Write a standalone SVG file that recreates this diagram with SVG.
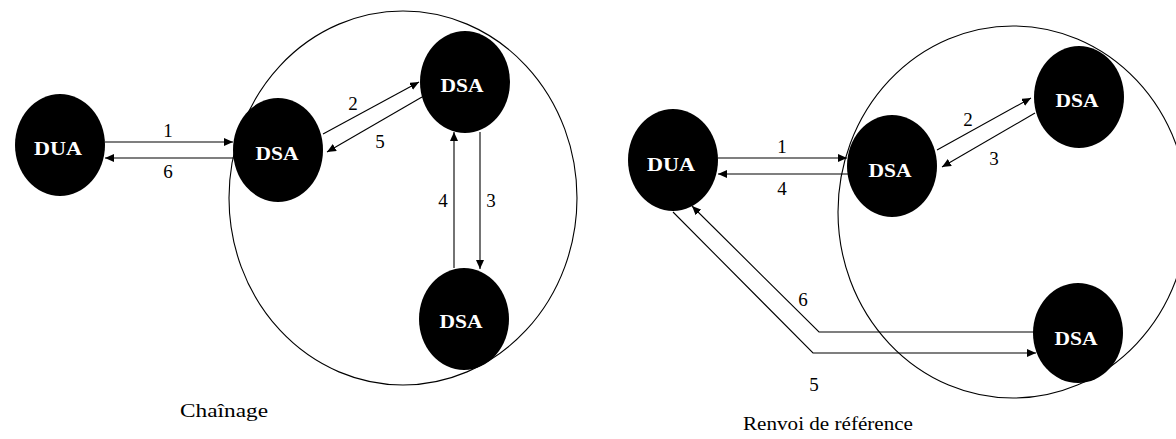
<svg xmlns="http://www.w3.org/2000/svg" width="1176" height="439" viewBox="0 0 1176 439">
  <style>
    .zone { fill: none; stroke: #000; stroke-width: 1.1; }
    .node ellipse { fill: #000; }
    .node text { fill: #fff; font-family: "Liberation Serif", "DejaVu Serif", serif; font-weight: bold; font-size: 18px; text-anchor: middle; }
    .link { fill: none; stroke: #000; stroke-width: 1.1; marker-end: url(#arrow); }
    .num { font-family: "Liberation Serif", "DejaVu Serif", serif; font-size: 19px; text-anchor: middle; fill: #000; }
    .caption { font-family: "Liberation Serif", "DejaVu Serif", serif; font-size: 18px; fill: #000; }
  </style>
  <defs>
    <marker id="arrow" viewBox="0 0 9 8" refX="9" refY="4" markerWidth="9" markerHeight="8" markerUnits="userSpaceOnUse" orient="auto">
      <path d="M0,0 L9,4 L0,8 z" fill="#000"/>
    </marker>
  </defs>
  <rect width="1176" height="439" fill="#fff"/>

  <!-- domain boundaries -->
  <g id="domains">
    <ellipse class="zone" cx="403" cy="198" rx="174" ry="187"/>
    <ellipse class="zone" cx="1013" cy="212" rx="175" ry="186"/>
  </g>

  <!-- chaining -->
  <g id="c-dua" class="node">
    <ellipse cx="60" cy="145" rx="45" ry="51"/>
    <text x="58" y="155" textLength="48" lengthAdjust="spacingAndGlyphs">DUA</text>
  </g>
  <g id="c-dsa1" class="node">
    <ellipse cx="278" cy="150" rx="45" ry="52"/>
    <text x="277" y="160" textLength="43" lengthAdjust="spacingAndGlyphs">DSA</text>
  </g>
  <g id="c-dsa2" class="node">
    <ellipse cx="465" cy="82" rx="45" ry="51"/>
    <text x="462" y="92" textLength="43" lengthAdjust="spacingAndGlyphs">DSA</text>
  </g>
  <g id="c-dsa3" class="node">
    <ellipse cx="464" cy="319" rx="45" ry="51"/>
    <text x="461" y="328" textLength="43" lengthAdjust="spacingAndGlyphs">DSA</text>
  </g>

  <!-- referral -->
  <g id="r-dua" class="node">
    <ellipse cx="673" cy="160" rx="45" ry="51"/>
    <text x="671" y="171" textLength="48" lengthAdjust="spacingAndGlyphs">DUA</text>
  </g>
  <g id="r-dsa1" class="node">
    <ellipse cx="892" cy="166" rx="45" ry="51"/>
    <text x="890" y="177" textLength="43" lengthAdjust="spacingAndGlyphs">DSA</text>
  </g>
  <g id="r-dsa2" class="node">
    <ellipse cx="1079" cy="97" rx="45" ry="51"/>
    <text x="1077" y="107" textLength="43" lengthAdjust="spacingAndGlyphs">DSA</text>
  </g>
  <g id="r-dsa3" class="node">
    <ellipse cx="1078" cy="333" rx="45" ry="50"/>
    <text x="1076" y="345" textLength="43" lengthAdjust="spacingAndGlyphs">DSA</text>
  </g>

  <g id="connectors">
    <!-- chaining -->
    <path class="link" d="M105,142 H233"/>
    <path class="link" d="M236,158 H105"/>
    <path class="link" d="M323,134 L419,82"/>
    <path class="link" d="M422,97 L327,152"/>
    <path class="link" d="M454,268 V132"/>
    <path class="link" d="M480,132 V269"/>
    <!-- referral -->
    <path class="link" d="M718,158 H847"/>
    <path class="link" d="M848,174 H718"/>
    <path class="link" d="M937,150 L1031,98"/>
    <path class="link" d="M1035,113 L942,167"/>
    <path class="link" d="M673,212 L813,353 H1036"/>
    <path class="link" d="M1034,332 H819 L692,206"/>
  </g>

  <g id="labels">
    <text class="num" x="168" y="137">1</text>
    <text class="num" x="168" y="178">6</text>
    <text class="num" x="353" y="110">2</text>
    <text class="num" x="380" y="148">5</text>
    <text class="num" x="443" y="207">4</text>
    <text class="num" x="491" y="207">3</text>
    <text class="num" x="782" y="153">1</text>
    <text class="num" x="782" y="195">4</text>
    <text class="num" x="968" y="126">2</text>
    <text class="num" x="994" y="165">3</text>
    <text class="num" x="803" y="306">6</text>
    <text class="num" x="814" y="391">5</text>
    <text class="caption" x="180" y="417" textLength="88" lengthAdjust="spacingAndGlyphs">Chaînage</text>
    <text class="caption" x="743" y="430" textLength="170" lengthAdjust="spacingAndGlyphs">Renvoi de référence</text>
  </g>
</svg>
